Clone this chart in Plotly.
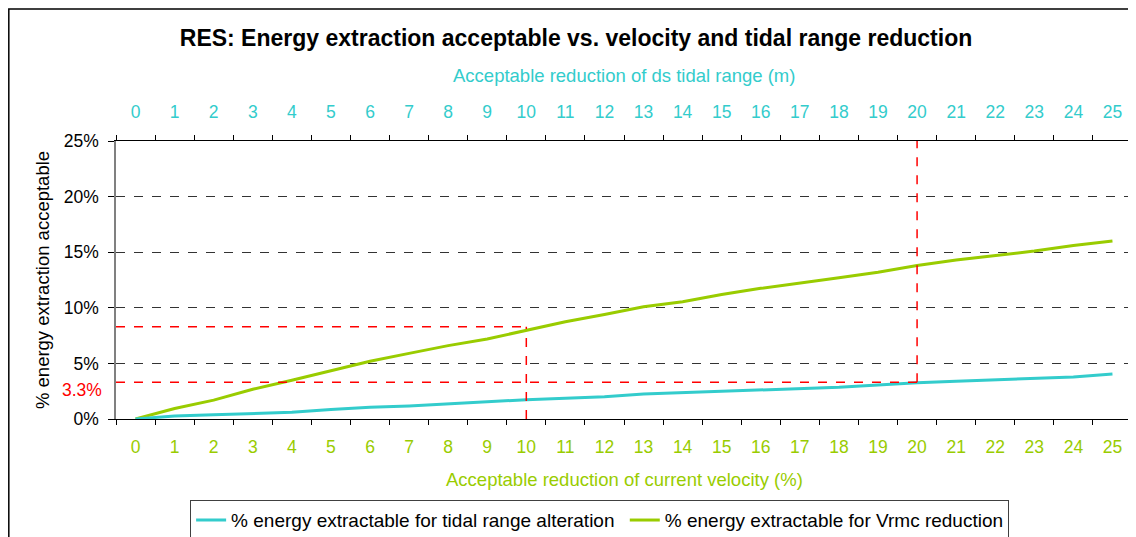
import plotly.graph_objects as go

# categories (both axes share the same 26 positions)
velocity_reduction = [str(i) for i in range(26)]      # bottom axis, %
tidal_range_reduction = [str(i) for i in range(26)]   # top axis, m

# % energy extractable (fractions)
energy_tidal = [0.0, 0.0027, 0.0039, 0.005, 0.006, 0.0085, 0.0105, 0.0117, 0.0135,
                0.0159, 0.0174, 0.0186, 0.020, 0.0225, 0.0237, 0.0249, 0.0264,
                0.0273, 0.0285, 0.0306, 0.0327, 0.0339, 0.0354, 0.0366, 0.0378, 0.0405]
energy_vrmc = [0.0, 0.0095, 0.017, 0.0267, 0.0348, 0.0435, 0.052, 0.059, 0.066,
               0.072, 0.080, 0.0875, 0.094, 0.101, 0.1055, 0.112, 0.1175,
               0.122, 0.127, 0.132, 0.138, 0.143, 0.147, 0.151, 0.156, 0.160]

# reference reads
ref_velocity_idx = 10
ref_velocity_energy = 0.083
ref_tidal_idx = 20
ref_tidal_energy = 0.033

CYAN = '#33CCCC'
GREEN = '#99CC00'
RED = '#FF0000'
FONT = 'Liberation Sans, Arial, sans-serif'
FS = 18.5      # titles
TFS = 17.5     # tick labels

fig = go.Figure()

fig.add_trace(go.Scatter(
    x=tidal_range_reduction, y=energy_tidal, xaxis='x2', mode='lines',
    name='% energy extractable for tidal range alteration ',
    line=dict(color=CYAN, width=3)))

fig.add_trace(go.Scatter(
    x=velocity_reduction, y=energy_vrmc, mode='lines',
    name='% energy extractable for Vrmc reduction',
    line=dict(color=GREEN, width=3)))

red_line = dict(color=RED, width=1.5, dash='dash')
shapes = [
    # velocity reference
    dict(type='line', xref='x', yref='y', x0=-0.5, x1=ref_velocity_idx,
         y0=ref_velocity_energy, y1=ref_velocity_energy, line=red_line),
    dict(type='line', xref='x', yref='y', x0=ref_velocity_idx, x1=ref_velocity_idx,
         y0=0, y1=ref_velocity_energy, line=red_line),
    # tidal range reference
    dict(type='line', xref='x', yref='y', x0=-0.5, x1=ref_tidal_idx,
         y0=ref_tidal_energy, y1=ref_tidal_energy, line=red_line),
    dict(type='line', xref='x', yref='y', x0=ref_tidal_idx, x1=ref_tidal_idx,
         y0=ref_tidal_energy, y1=0.25, line=red_line),
    # outer chart border
    dict(type='rect', xref='paper', yref='paper', x0=-0.1055, x1=1.02,
         y0=-0.45, y1=1.475, line=dict(color='#000000', width=1.5), layer='below'),
]

annotations = [
    dict(text='Acceptable reduction of ds tidal range (m)', xref='paper', yref='paper',
         x=0.5, y=1.237, xanchor='center', yanchor='middle', showarrow=False,
         font=dict(color=CYAN, size=FS)),
    dict(text='Acceptable reduction of current velocity (%)', xref='paper', yref='paper',
         x=0.5, y=-0.216, xanchor='center', yanchor='middle', showarrow=False,
         font=dict(color=GREEN, size=FS)),
    dict(text='% energy extraction acceptable', xref='paper', yref='paper',
         x=-0.0728, y=0.5, xanchor='center', yanchor='middle', textangle=-90,
         showarrow=False, font=dict(color='#000000', size=FS)),
    dict(text='3.3%', xref='paper', yref='y', x=0, y=ref_tidal_energy,
         xanchor='right', xshift=-12, yshift=-8, showarrow=False,
         font=dict(color=RED, size=TFS)),
]

# page has an 8px body margin, so the figure is 8px smaller and margins are shifted
fig.update_layout(
    width=1128, height=529,
    font=dict(family=FONT, size=FS, color='#000000'),
    paper_bgcolor='white', plot_bgcolor='white',
    margin=dict(l=108, r=4, t=133, b=118, autoexpand=False),
    title=dict(text='<b>RES: Energy extraction acceptable vs. velocity and tidal range reduction</b>',
               x=568 / 1128, xanchor='center', xref='container', y=1 - 30 / 529,
               yanchor='middle', yref='container', font=dict(size=23, color='#000000')),
    xaxis=dict(type='category', categoryorder='array', categoryarray=velocity_reduction,
               tickson='boundaries', ticks='outside', ticklen=5, tickcolor='#000000',
               showline=True, linecolor='#000000', linewidth=1, showgrid=False,
               tickfont=dict(color=GREEN, size=TFS), range=[-0.5, 25.5],
               automargin=False, ticklabelstandoff=12),
    xaxis2=dict(type='category', categoryorder='array', categoryarray=tidal_range_reduction,
                overlaying='x', side='top', anchor='y',
                tickson='boundaries', ticks='outside', ticklen=5, tickcolor='#000000',
                showline=True, linecolor='#000000', linewidth=1, showgrid=False,
                tickfont=dict(color=CYAN, size=TFS), range=[-0.5, 25.5],
                automargin=False, ticklabelstandoff=15),
    yaxis=dict(range=[0, 0.25], dtick=0.05, tickformat='.0%', ticks='outside',
               ticklen=6, tickcolor='#000000', showline=True, linecolor='#808080',
               linewidth=1.5, showgrid=True, gridcolor='#333333', griddash='dash',
               gridwidth=1, zeroline=False, tickfont=dict(size=TFS),
               automargin=False, ticklabelstandoff=6),
    legend=dict(orientation='h', x=0.476, xanchor='center', y=-0.292, yanchor='top',
                bordercolor='#404040', borderwidth=1, font=dict(size=19),
                itemwidth=30, tracegroupgap=0),
    shapes=shapes,
    annotations=annotations,
)

fig.write_html('out.html')
